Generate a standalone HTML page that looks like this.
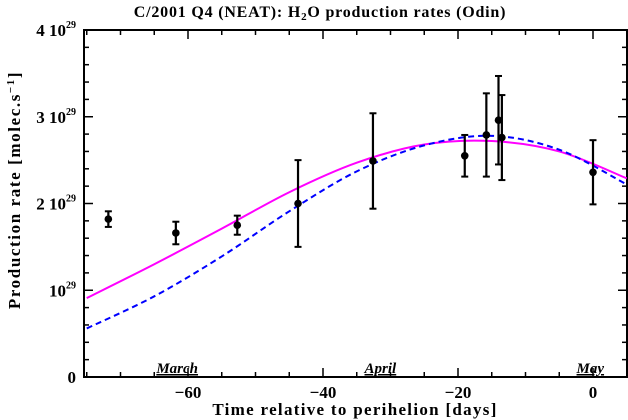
<!DOCTYPE html>
<html><head><meta charset="utf-8"><style>
body{margin:0;background:#fff;}
svg{display:block;font-family:"Liberation Serif",serif;font-weight:bold;}
</style></head><body>
<svg id="chart" width="628" height="420">
<text x="320" y="17" text-anchor="middle" font-size="16" letter-spacing="0.8">C/2001 Q4 (NEAT): H<tspan font-size="11" dy="3">2</tspan><tspan dy="-3">O production rates (Odin)</tspan></text>
<text x="355" y="415" text-anchor="middle" font-size="17" letter-spacing="1.3">Time relative to perihelion [days]</text>
<text transform="translate(20,190) rotate(-90)" text-anchor="middle" font-size="17" letter-spacing="1.6">Production rate [molec.s<tspan font-size="11" dy="-6">−1</tspan><tspan dy="6">]</tspan></text>
<g id="axes"></g><g id="curves"></g><g id="points"></g>
</svg>
<script>
const monthNames=["March","April","May"];
const monthDays=[-61.6,-31.5,-0.4];
const obsDays=[-71.8,-61.8,-52.7,-43.7,-32.6,-19.0,-15.8,-14.0,-13.5,0];
const obsRates=[1.82,1.66,1.75,2.0,2.49,2.55,2.79,2.96,2.76,2.36];
const obsErrors=[0.09,0.13,0.11,0.5,0.55,0.24,0.48,0.51,0.49,0.37];
const modelDays=[-75,-65,-55,-45,-35,-25,-15,-5,5];
const modelSolid=[0.91,1.30,1.71,2.13,2.47,2.68,2.72,2.60,2.29];
const modelDashed=[0.56,0.93,1.39,1.91,2.37,2.67,2.78,2.62,2.22];
const xTicks=[-60,-40,-20,0];
const yTicks=[0,1,2,3,4];

const NS="http://www.w3.org/2000/svg";
const L=84,R=627,T=30,B=377;
const X=d=>593+d*6.75;
const Y=v=>B-v*(B-T)/4;
function mk(tag,attrs,parent){const e=document.createElementNS(NS,tag);for(const k in attrs)e.setAttribute(k,attrs[k]);parent.appendChild(e);return e;}
const axes=document.getElementById('axes');
const frame=mk('rect',{x:L,y:T,width:R-L,height:B-T,fill:'none',stroke:'#000','stroke-width':2},axes);


for(let d=-75;d<=5;d+=5){const x=X(d);if(x<L||x>R)continue;const big=d%20===0?9:5;
 mk('line',{x1:x,y1:B,x2:x,y2:B-big,stroke:'#000','stroke-width':1.5},axes);
 mk('line',{x1:x,y1:T,x2:x,y2:T+big,stroke:'#000','stroke-width':1.5},axes);}
for(let i=0;i<=20;i++){const v=i*0.2,y=Y(v),big=i%5===0?9:5;
 mk('line',{x1:L,y1:y,x2:L+big,y2:y,stroke:'#000','stroke-width':1.5},axes);
 mk('line',{x1:R,y1:y,x2:R-big,y2:y,stroke:'#000','stroke-width':1.5},axes);}
xTicks.forEach(d=>{const t=mk('text',{x:X(d),y:398,'text-anchor':'middle','font-size':17},axes);t.textContent=(d<0?'−':'')+Math.abs(d);
 
 });
yTicks.forEach(v=>{const t=mk('text',{x:76,y:Y(v)+6,'text-anchor':'end','font-size':17},axes);
 if(v===0)t.textContent='0';else{t.textContent=(v===1?'':v+' ')+'10';const s=mk('tspan',{'font-size':10,dy:-8},t);s.textContent='29';}
 
 });
monthNames.forEach((m,i)=>{const t=mk('text',{x:X(monthDays[i]),y:373,'text-anchor':'middle','font-size':15,'font-style':'italic','text-decoration':'underline'},axes);t.textContent=m;
 
 });
function path(vals){const p=modelDays.map((d,i)=>[X(d),Y(vals[i])]);let s=`M${p[0][0]},${p[0][1]}`;
 for(let i=0;i<p.length-1;i++){const p0=p[Math.max(0,i-1)],p1=p[i],p2=p[i+1],p3=p[Math.min(p.length-1,i+2)];
 s+=` C${p1[0]+(p2[0]-p0[0])/6},${p1[1]+(p2[1]-p0[1])/6} ${p2[0]-(p3[0]-p1[0])/6},${p2[1]-(p3[1]-p1[1])/6} ${p2[0]},${p2[1]}`;}return s;}
const cg=document.getElementById('curves');
const c1=mk('path',{d:path(modelSolid),fill:'none',stroke:'#ff00ff','stroke-width':2},cg);


const c2=mk('path',{d:path(modelDashed),fill:'none',stroke:'#0000ff','stroke-width':2,'stroke-dasharray':'6,4'},cg);


const pg=document.getElementById('points');
obsDays.forEach((d,i)=>{const g=mk('g',{},pg);
 
 
 const x=X(d),y1=Y(obsRates[i]+obsErrors[i]),y2=Y(obsRates[i]-obsErrors[i]);
 mk('line',{x1:x,y1:y1,x2:x,y2:y2,stroke:'#000','stroke-width':2.2},g);
 mk('line',{x1:x-3.5,y1:y1,x2:x+3.5,y2:y1,stroke:'#000','stroke-width':2},g);
 mk('line',{x1:x-3.5,y1:y2,x2:x+3.5,y2:y2,stroke:'#000','stroke-width':2},g);
 mk('circle',{cx:x,cy:Y(obsRates[i]),r:3.8,fill:'#000'},g);});
</script>
</body></html>
